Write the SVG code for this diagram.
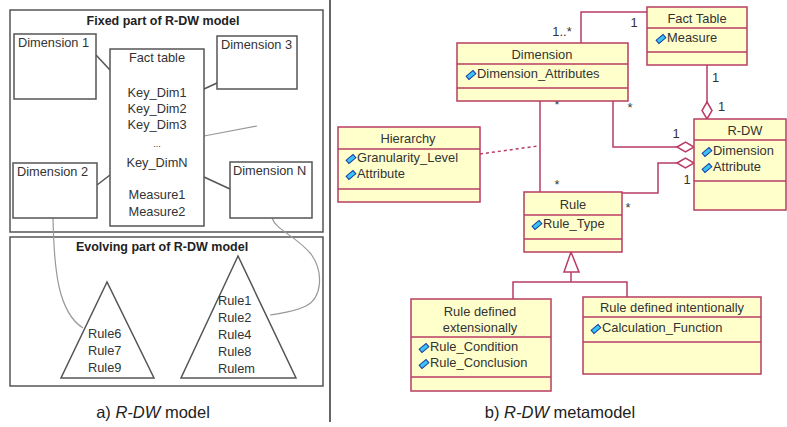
<svg xmlns="http://www.w3.org/2000/svg" xmlns:xlink="http://www.w3.org/1999/xlink" width="787" height="427" viewBox="0 0 787 427">
<style>
.frame{fill:none;stroke:#555;stroke-width:1.5}
.box{fill:#fff;stroke:#555;stroke-width:1.5}
.lt{font-family:"Liberation Sans",Arial,sans-serif;font-size:12.8px;fill:#333}
.ltb{font-family:"Liberation Sans",Arial,sans-serif;font-size:12.5px;font-weight:bold;fill:#222}
.gl{fill:none;stroke:#555;stroke-width:1.5}
.gc{fill:none;stroke:#999;stroke-width:1.2}
.cls{fill:#FFFFCC;stroke:#B83C64;stroke-width:1.5}
.sep{stroke:#B83C64;stroke-width:1.5}
.rt{font-family:"Liberation Sans",Arial,sans-serif;font-size:12.9px;fill:#333}
.rc{stroke:#B83C64;stroke-width:1.5;fill:none}
.dia{fill:#fff;stroke:#B83C64;stroke-width:1.5}
.cap{font-family:"Liberation Sans",Arial,sans-serif;font-size:16.5px;fill:#222}
</style>
<defs>
<g id="icon"><rect x="-4.5" y="-2.2" width="9" height="4.4" transform="rotate(-40)" fill="#39C6F2" stroke="#1A3AA8" stroke-width="1"/></g>
</defs>
<rect width="787" height="427" fill="#fff"/>

<!-- Left panel -->
<g id="fixed-frame">
<rect class="frame" x="10" y="10" width="313" height="222"/>
<text class="ltb" x="163" y="25" text-anchor="middle">Fixed part of R-DW model</text>
</g>
<g id="evolving-frame">
<rect class="frame" x="10" y="237" width="313" height="149"/>
<text class="ltb" x="162" y="251" text-anchor="middle">Evolving part of R-DW model</text>
</g>
<g id="left-connectors">
<line class="gl" x1="96" y1="55" x2="110" y2="70"/>
<line class="gl" x1="204" y1="89" x2="217" y2="83"/>
<line class="gl" x1="97" y1="185" x2="110" y2="175"/>
<line class="gl" x1="204" y1="177" x2="230" y2="189"/>
<line class="gc" x1="204" y1="136" x2="257" y2="126"/>
<path class="gc" d="M53,218 C54,270 58,312 83,328"/>
<path class="gc" d="M272,218 C276,230 296,236 311,254 C324,272 322,298 306,306 C294,312 282,313 270,315"/>
</g>
<g id="dim1"><rect class="box" x="14" y="34" width="82" height="65"/><text class="lt" x="18" y="47">Dimension 1</text></g>
<g id="dim3"><rect class="box" x="217" y="36" width="80" height="53"/><text class="lt" x="221" y="49">Dimension 3</text></g>
<g id="dim2"><rect class="box" x="13" y="163" width="84" height="55"/><text class="lt" x="17" y="176">Dimension 2</text></g>
<g id="dimN"><rect class="box" x="230" y="162" width="82" height="56"/><text class="lt" x="233" y="175">Dimension N</text></g>
<g id="fact">
<rect class="box" x="110" y="49" width="94" height="177"/>
<g class="lt" text-anchor="middle">
<text x="157" y="62">Fact table</text>
<text x="157" y="97">Key_Dim1</text>
<text x="157" y="113">Key_Dim2</text>
<text x="157" y="129">Key_Dim3</text>
<text x="157" y="147" style="font-size:9px">...</text>
<text x="157" y="167">Key_DimN</text>
<text x="157" y="199">Measure1</text>
<text x="157" y="216">Measure2</text>
</g>
</g>
<g id="tri1">
<polygon class="gl" points="107,282 61,378 154,378"/>
<g class="lt"><text x="88" y="338">Rule6</text><text x="88" y="355">Rule7</text><text x="88" y="372">Rule9</text></g>
</g>
<g id="tri2">
<polygon class="gl" points="238,256 181,378 296,378"/>
<g class="lt"><text x="218" y="305">Rule1</text><text x="218" y="322">Rule2</text><text x="218" y="339">Rule4</text><text x="218" y="356">Rule8</text><text x="218" y="373">Rulem</text></g>
</g>
<text class="cap" x="153" y="418" text-anchor="middle">a) <tspan font-style="italic">R-DW</tspan>  model</text>

<line x1="330" y1="0" x2="330" y2="422" stroke="#333" stroke-width="1.5"/>

<!-- Right panel connectors -->
<g id="connectors">
<polyline class="rc" points="581,43 581,12 647,12"/>
<line class="rc" x1="707" y1="65" x2="707" y2="102"/>
<polygon class="dia" points="707,102 712,110.5 707,119 702,110.5"/>
<polyline class="rc" points="613,101 613,147 677,147"/>
<polygon class="dia" points="677,147 685.5,142 694,147 685.5,152"/>
<polyline class="rc" points="622,193 658,193 658,163 677,163"/>
<polygon class="dia" points="677,163 685.5,158 694,163 685.5,168"/>
<line class="rc" x1="540" y1="101" x2="540" y2="192"/>
<line class="rc" x1="480" y1="154" x2="538" y2="146" stroke-dasharray="3,3"/>
<polyline class="rc" points="571,272 571,282"/>
<polyline class="rc" points="513,299 513,282 627,282 627,297"/>
<polygon class="dia" points="571,252 579,272 564,272"/>
<g class="rt">
<text x="562" y="36" text-anchor="middle">1..*</text>
<text x="634" y="27" text-anchor="middle">1</text>
<text x="712" y="82">1</text>
<text x="718" y="111">1</text>
<text x="630" y="112" text-anchor="middle">*</text>
<text x="676" y="138" text-anchor="middle">1</text>
<text x="628" y="212" text-anchor="middle">*</text>
<text x="687" y="184" text-anchor="middle">1</text>
<text x="557" y="109" text-anchor="middle">*</text>
<text x="557" y="189" text-anchor="middle">*</text>
</g>
</g>

<g id="facttable">
<rect class="cls" x="647" y="7" width="100" height="58"/>
<line class="sep" x1="647" y1="28" x2="747" y2="28"/>
<line class="sep" x1="647" y1="52" x2="747" y2="52"/>
<text class="rt" x="697" y="23" text-anchor="middle">Fact Table</text>
<use xlink:href="#icon" x="661" y="39"/>
<text class="rt" x="667" y="42">Measure</text>
</g>
<g id="dimension">
<rect class="cls" x="457" y="43" width="171" height="58"/>
<line class="sep" x1="457" y1="64" x2="628" y2="64"/>
<line class="sep" x1="457" y1="88" x2="628" y2="88"/>
<text class="rt" x="542" y="59" text-anchor="middle">Dimension</text>
<use xlink:href="#icon" x="471" y="75"/>
<text class="rt" x="477" y="78">Dimension_Attributes</text>
</g>
<g id="rdw">
<rect class="cls" x="694" y="119" width="92" height="91"/>
<line class="sep" x1="694" y1="140" x2="786" y2="140"/>
<line class="sep" x1="694" y1="181" x2="786" y2="181"/>
<text class="rt" x="745" y="135" text-anchor="middle">R-DW</text>
<use xlink:href="#icon" x="707" y="152"/>
<text class="rt" x="713" y="155">Dimension</text>
<use xlink:href="#icon" x="707" y="168"/>
<text class="rt" x="713" y="171">Attribute</text>
</g>
<g id="hierarchy">
<rect class="cls" x="338" y="127" width="142" height="75"/>
<line class="sep" x1="338" y1="149" x2="480" y2="149"/>
<line class="sep" x1="338" y1="189" x2="480" y2="189"/>
<text class="rt" x="408" y="143" text-anchor="middle">Hierarchy</text>
<use xlink:href="#icon" x="351" y="159"/>
<text class="rt" x="357" y="162">Granularity_Level</text>
<use xlink:href="#icon" x="351" y="175"/>
<text class="rt" x="357" y="178">Attribute</text>
</g>
<g id="rule">
<rect class="cls" x="524" y="192" width="98" height="60"/>
<line class="sep" x1="524" y1="215" x2="622" y2="215"/>
<line class="sep" x1="524" y1="239" x2="622" y2="239"/>
<text class="rt" x="573" y="209" text-anchor="middle">Rule</text>
<use xlink:href="#icon" x="537" y="225"/>
<text class="rt" x="543" y="228">Rule_Type</text>
</g>
<g id="rule-ext">
<rect class="cls" x="411" y="299" width="140" height="92"/>
<line class="sep" x1="411" y1="337" x2="551" y2="337"/>
<line class="sep" x1="411" y1="377" x2="551" y2="377"/>
<text class="rt" x="480" y="316" text-anchor="middle">Rule defined</text>
<text class="rt" x="480" y="332" text-anchor="middle">extensionally</text>
<use xlink:href="#icon" x="424" y="348"/>
<text class="rt" x="430" y="351">Rule_Condition</text>
<use xlink:href="#icon" x="424" y="364"/>
<text class="rt" x="430" y="367">Rule_Conclusion</text>
</g>
<g id="rule-int">
<rect class="cls" x="583" y="297" width="178" height="77"/>
<line class="sep" x1="583" y1="317" x2="761" y2="317"/>
<line class="sep" x1="583" y1="342" x2="761" y2="342"/>
<text class="rt" x="672" y="312" text-anchor="middle">Rule defined intentionally</text>
<use xlink:href="#icon" x="596" y="329"/>
<text class="rt" x="602" y="332">Calculation_Function</text>
</g>
<text class="cap" x="560" y="418" text-anchor="middle">b) <tspan font-style="italic">R-DW</tspan>  metamodel</text>
</svg>
